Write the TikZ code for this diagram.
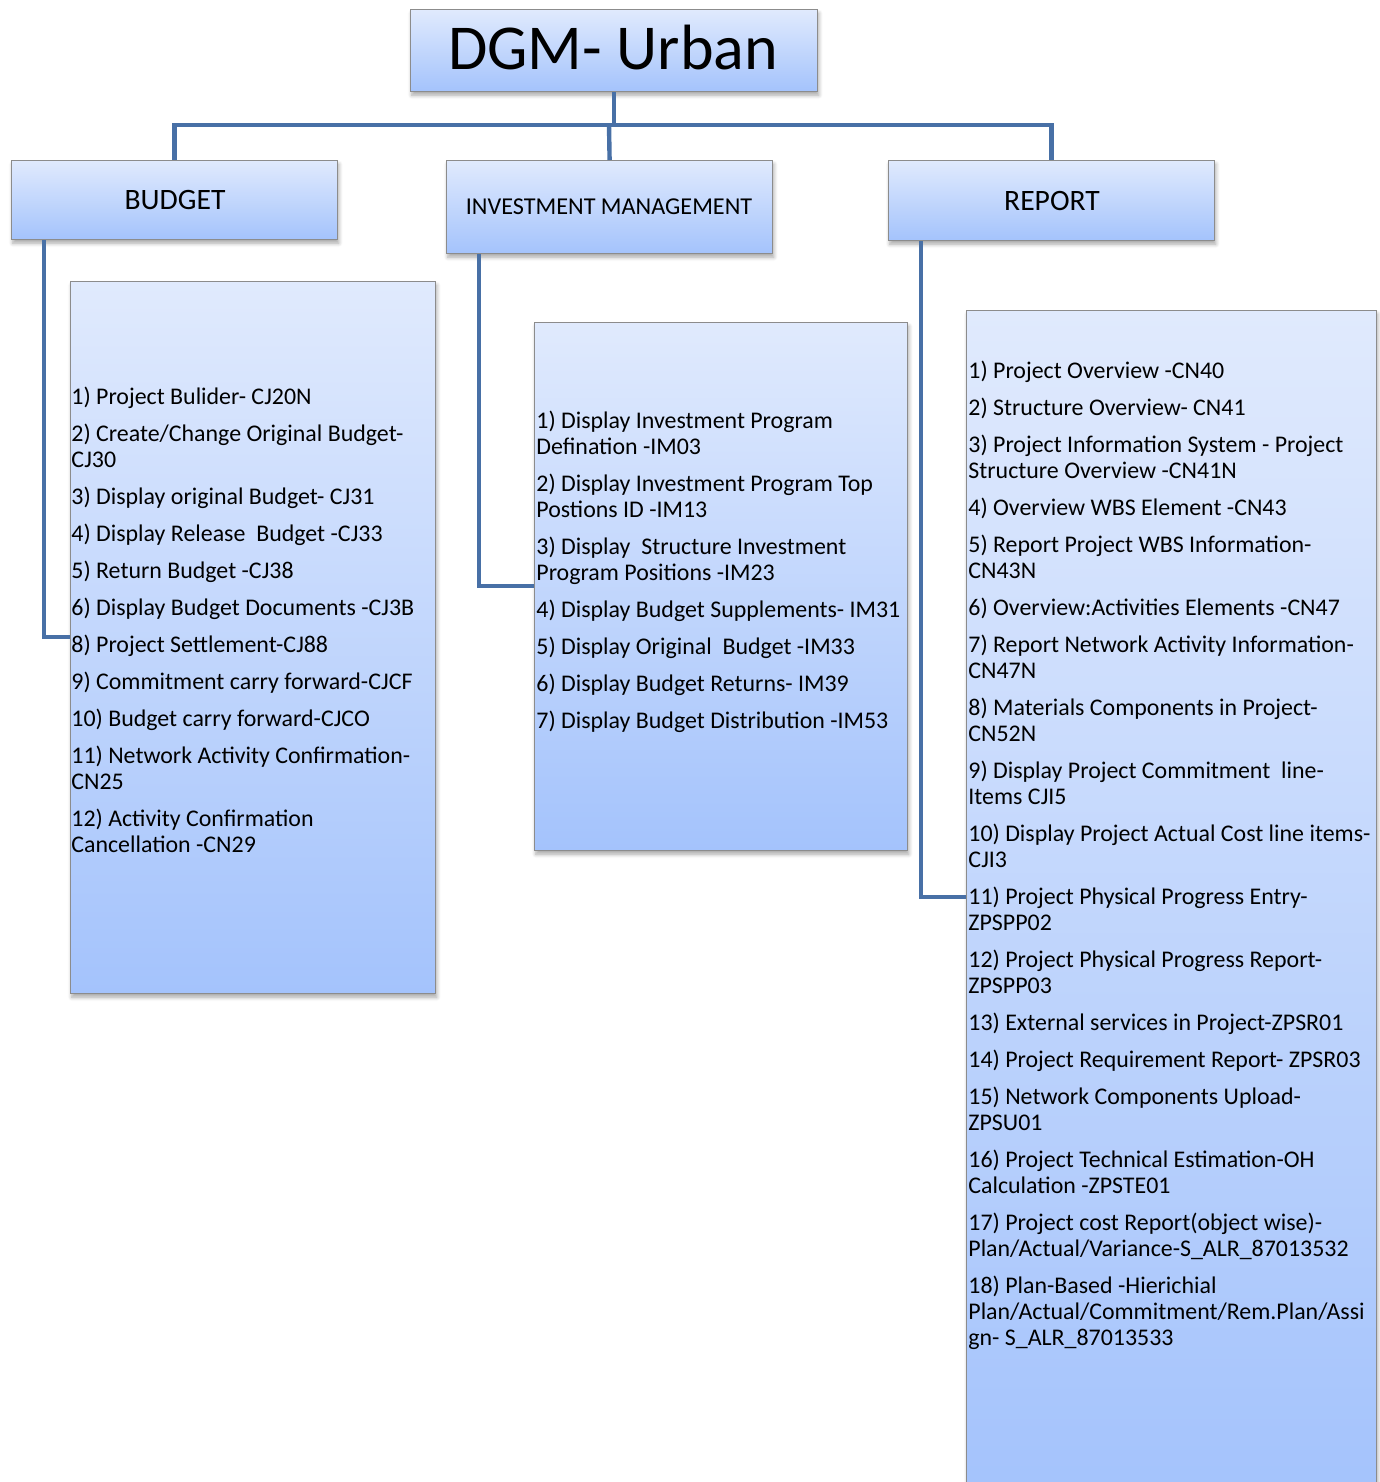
\documentclass[tikz,border=0pt]{standalone}
\usepackage{fontspec}
\setmainfont{Carlito}
\usetikzlibrary{shadows.blur}
\definecolor{gtop}{RGB}{224,234,253}
\definecolor{gbot}{RGB}{164,195,252}
\definecolor{conn}{RGB}{72,112,166}
\definecolor{edge}{RGB}{140,140,140}
\tikzset{
  box/.style={draw=edge, line width=0.6pt, top color=gtop, bottom color=gbot, inner sep=0pt, anchor=north west,
    blur shadow={shadow xshift=0.6pt, shadow yshift=-1.8pt, shadow blur steps=6, shadow opacity=35}},
  lst/.style={anchor=north west, inner sep=0pt, align=left, font=\fontsize{11.95}{13}\selectfont},
  link/.style={draw=conn, line width=2.2pt},
  hdr/.style={font=\fontsize{14.8}{16}\selectfont, inner sep=0pt}
}
\newcommand{\fl}{\rule{0pt}{9.5pt}}
\begin{document}
\begin{tikzpicture}[x=0.5pt, y=-0.5pt]
\useasboundingbox (0,0) rectangle (1380,1482);
% boxes
\node[box, minimum width=203.5pt, minimum height=41pt] (t) at (410,9) {};
\node[box, minimum width=163pt, minimum height=39.5pt] (b) at (11,160) {};
\node[box, minimum width=163pt, minimum height=46.5pt] (im) at (446,160) {};
\node[box, minimum width=163pt, minimum height=40pt] (r) at (888,160) {};
\node[box, minimum width=182.5pt, minimum height=356pt] (bl) at (70,281) {};
\node[box, minimum width=186.5pt, minimum height=264pt] (iml) at (534,322) {};
\node[box, minimum width=205pt, minimum height=592pt] (rl) at (966,310) {};
% header texts
\node[font=\fontsize{32}{34}\selectfont, inner sep=0pt] (tt) at (613,48) {DGM- Urban};
\node[hdr] (bt) at (175,200) {BUDGET};
\node[font=\fontsize{12.1}{14}\selectfont, inner sep=0pt] (imt) at (609,207) {INVESTMENT MANAGEMENT};
\node[hdr] (rt) at (1052,201) {REPORT};
% connectors
\coordinate (hub) at (613,125);
\coordinate (bj) at (44,637);
\coordinate (ij) at (479,586);
\coordinate (rj) at (921,897);
\draw[link] (t.south) -- (t.south |- hub);
\draw[link, line cap=rect] (b.north |- hub) -- (r.north |- hub);
\draw[link] (b.north |- hub) -- (b.north);
\draw[link] (609,125) -- (im.north);
\draw[link] (r.north |- hub) -- (r.north);
\draw[link] (b.south -| bj) -- (bj) -- (bl.west |- bj);
\draw[link] (im.south -| ij) -- (ij) -- (iml.west |- ij);
\draw[link] (r.south -| rj) -- (rj) -- (rl.west |- rj);
% list texts
\node[lst] (btx) at (71,385) {\fl 1) Project Bulider- CJ20N\\[5.5pt]
2) Create/Change Original Budget-\\CJ30\\[5.5pt]
3) Display original Budget- CJ31\\[5.5pt]
4) Display Release~ Budget -CJ33\\[5.5pt]
5) Return Budget -CJ38\\[5.5pt]
6) Display Budget Documents -CJ3B\\[5.5pt]
8) Project Settlement-CJ88\\[5.5pt]
9) Commitment carry forward-CJCF\\[5.5pt]
10) Budget carry forward-CJCO\\[5.5pt]
11) Network Activity Confirmation-\\CN25\\[5.5pt]
12) Activity Confirmation\\Cancellation -CN29};
\node[lst] (imtx) at (536,409) {\fl 1) Display Investment Program\\Defination -IM03\\[5.5pt]
2) Display Investment Program Top\\Postions ID -IM13\\[5.5pt]
3) Display~ Structure Investment\\Program Positions -IM23\\[5.5pt]
4) Display Budget Supplements- IM31\\[5.5pt]
5) Display Original~ Budget -IM33\\[5.5pt]
6) Display Budget Returns- IM39\\[5.5pt]
7) Display Budget Distribution -IM53};
\node[lst] (rtx) at (968,359) {\fl 1) Project Overview -CN40\\[5.5pt]
2) Structure Overview- CN41\\[5.5pt]
3) Project Information System - Project\\Structure Overview -CN41N\\[5.5pt]
4) Overview WBS Element -CN43\\[5.5pt]
5) Report Project WBS Information-\\CN43N\\[5.5pt]
6) Overview:Activities Elements -CN47\\[5.5pt]
7) Report Network Activity Information-\\CN47N\\[5.5pt]
8) Materials Components in Project-\\CN52N\\[5.5pt]
9) Display Project Commitment~ line-\\Items CJI5\\[5.5pt]
10) Display Project Actual Cost line items-\\CJI3\\[5.5pt]
11) Project Physical Progress Entry-\\ZPSPP02\\[5.5pt]
12) Project Physical Progress Report-\\ZPSPP03\\[5.5pt]
13) External services in Project-ZPSR01\\[5.5pt]
14) Project Requirement Report- ZPSR03\\[5.5pt]
15) Network Components Upload-\\ZPSU01\\[5.5pt]
16) Project Technical Estimation-OH\\Calculation -ZPSTE01\\[5.5pt]
17) Project cost Report(object wise)-\\Plan/Actual/Variance-S\_ALR\_87013532\\[5.5pt]
18) Plan-Based -Hierichial\\Plan/Actual/Commitment/Rem.Plan/Assi\\gn- S\_ALR\_87013533};
\end{tikzpicture}
\end{document}
